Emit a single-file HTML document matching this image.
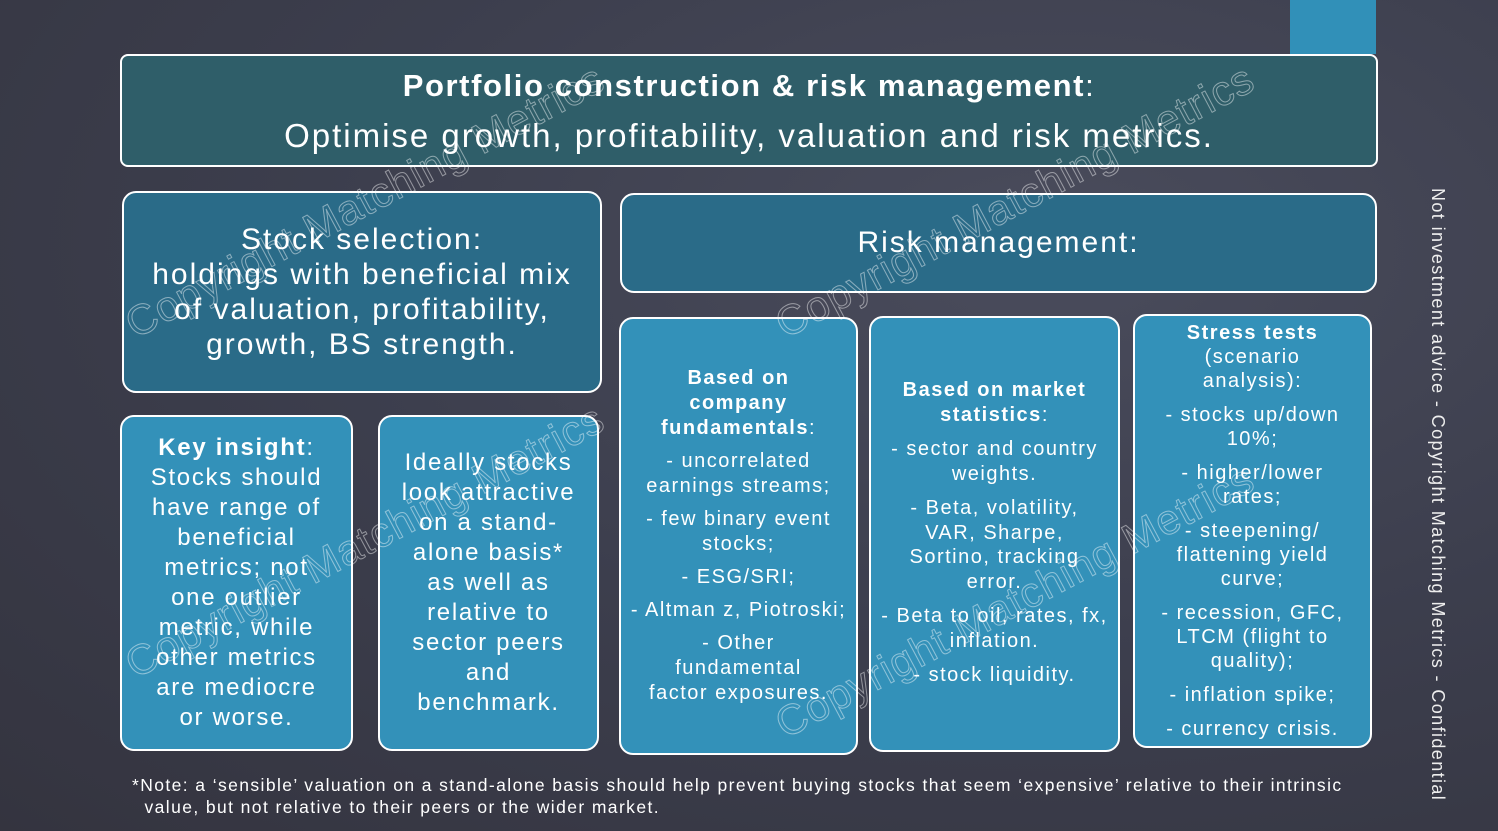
<!DOCTYPE html>
<html><head><meta charset="utf-8"><style>
body{margin:0;width:1498px;height:831px;overflow:hidden;font-family:"Liberation Sans",sans-serif;color:#fff;
background:radial-gradient(ellipse at 70% 30%,#4a4c5c 0%,#3c3e4d 50%,#34343f 100%);position:relative}
.b{position:absolute;box-sizing:border-box;border:2px solid #fff;border-radius:14px;display:flex;flex-direction:column;align-items:center;justify-content:center;text-align:center;letter-spacing:1.5px}
.lt{background:#3391b9}
.dk{background:#2a6b88}
p{margin:0}
.wm{position:absolute;font-size:42px;color:transparent;-webkit-text-stroke:1px rgba(255,255,255,0.45);white-space:nowrap;transform-origin:left bottom;letter-spacing:1px}
</style></head><body>
<div style="position:absolute;left:1290px;top:0;width:86px;height:54px;background:#3190b8"></div>
<div class="b" style="left:120px;top:54px;width:1258px;height:113px;background:#2f5e69;border-radius:8px;letter-spacing:0">
<p style="font-size:31px;font-weight:bold;line-height:50px;letter-spacing:1.6px">Portfolio construction &amp; risk management<span style="font-weight:normal">:</span></p>
<p style="font-size:33px;line-height:50px;letter-spacing:2px">Optimise growth, profitability, valuation and risk metrics.</p></div>
<div class="b dk" style="left:122px;top:191px;width:480px;height:202px;font-size:30px;line-height:35px;letter-spacing:2px">
<p>Stock selection:<br>holdings with beneficial mix<br>of valuation, profitability,<br>growth, BS strength.</p></div>
<div class="b dk" style="left:620px;top:193px;width:757px;height:100px;font-size:30px;letter-spacing:2px">
<p>Risk management:</p></div>
<div class="b lt" style="left:120px;top:415px;width:233px;height:336px;font-size:24px;line-height:30px;letter-spacing:1.7px">
<p><b>Key insight</b>:<br>Stocks should<br>have range of<br>beneficial<br>metrics; not<br>one outlier<br>metric, while<br>other metrics<br>are mediocre<br>or worse.</p></div>
<div class="b lt" style="left:378px;top:415px;width:221px;height:336px;font-size:24px;line-height:30px;letter-spacing:1.7px">
<p>Ideally stocks<br>look attractive<br>on a stand-<br>alone basis*<br>as well as<br>relative to<br>sector peers<br>and<br>benchmark.</p></div>
<div class="b lt" style="left:619px;top:317px;width:239px;height:438px;font-size:20px;line-height:25px">
<p><b>Based on<br>company<br>fundamentals</b>:</p>
<p style="margin-top:8px">- uncorrelated<br>earnings streams;</p>
<p style="margin-top:8px">- few binary event<br>stocks;</p>
<p style="margin-top:8px">- ESG/SRI;</p>
<p style="margin-top:8px">- Altman z, Piotroski;</p>
<p style="margin-top:8px">- Other<br>fundamental<br>factor exposures.</p></div>
<div class="b lt" style="left:869px;top:316px;width:251px;height:436px;font-size:20px;line-height:24.5px;justify-content:flex-start;padding-top:60px">
<p><b>Based on market<br>statistics</b>:</p>
<p style="margin-top:10px">- sector and country<br>weights.</p>
<p style="margin-top:10px">- Beta, volatility,<br>VAR, Sharpe,<br>Sortino, tracking<br>error.</p>
<p style="margin-top:10px">- Beta to oil, rates, fx,<br>inflation.</p>
<p style="margin-top:10px">- stock liquidity.</p></div>
<div class="b lt" style="left:1133px;top:314px;width:239px;height:434px;font-size:20px;line-height:24px">
<p><b>Stress tests</b><br>(scenario<br>analysis):</p>
<p style="margin-top:10px">- stocks up/down<br>10%;</p>
<p style="margin-top:10px">- higher/lower<br>rates;</p>
<p style="margin-top:10px">- steepening/<br>flattening yield<br>curve;</p>
<p style="margin-top:10px">- recession, GFC,<br>LTCM (flight to<br>quality);</p>
<p style="margin-top:10px">- inflation spike;</p>
<p style="margin-top:10px">- currency crisis.</p></div>
<div style="position:absolute;left:132px;top:774px;font-size:17.5px;line-height:22px;letter-spacing:1.4px;color:#fff;white-space:nowrap">*Note: a ‘sensible’ valuation on a stand-alone basis should help prevent buying stocks that seem ‘expensive’ relative to their intrinsic<br>&nbsp;&nbsp;value, but not relative to their peers or the wider market.</div>
<div style="position:absolute;left:1426px;top:188px;width:614px;font-size:18px;letter-spacing:1.4px;white-space:nowrap;transform-origin:0 0;transform:translate(22px,0) rotate(90deg);color:#eee">Not investment advice - Copyright Matching Metrics - Confidential</div>
<div class="wm" style="left:140px;top:300px;transform:rotate(-28deg)">Copyright Matching Metrics</div>
<div class="wm" style="left:790px;top:300px;transform:rotate(-28deg)">Copyright Matching Metrics</div>
<div class="wm" style="left:140px;top:640px;transform:rotate(-28deg)">Copyright Matching Metrics</div>
<div class="wm" style="left:790px;top:700px;transform:rotate(-28deg)">Copyright Matching Metrics</div>
</body></html>
